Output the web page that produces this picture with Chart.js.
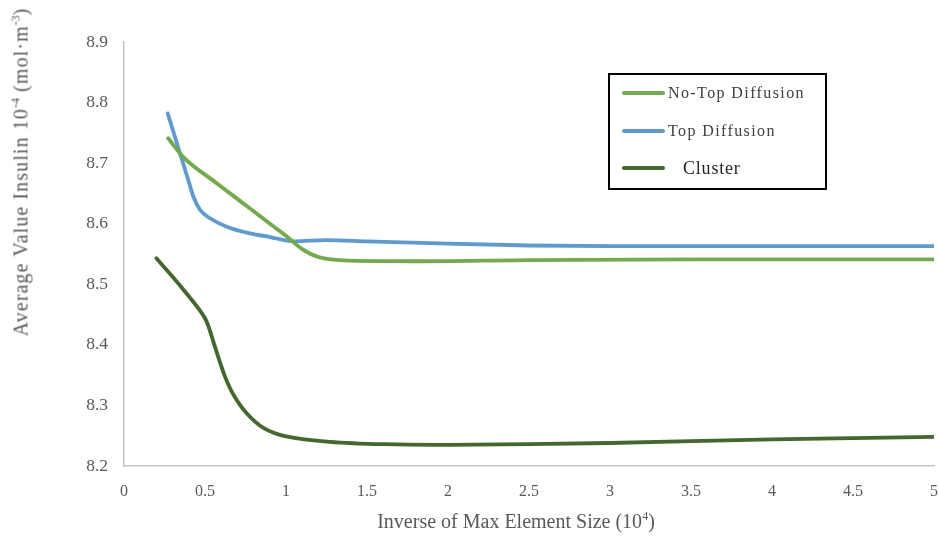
<!DOCTYPE html>
<html>
<head>
<meta charset="utf-8">
<script src="https://cdn.jsdelivr.net/npm/chart.js@4/dist/chart.umd.min.js"></script>
<style>
  html, body { margin: 0; padding: 0; background: #fff; }
  #wrap { position: relative; width: 939px; height: 536px; }
  canvas { position: absolute; left: 0; top: 0; }
  .ytitle { position: absolute; left: 21px; top: 172px; transform: translate(-50%, -50%) rotate(-90deg);
    white-space: nowrap; font-family: "Liberation Serif", serif; font-size: 20px; letter-spacing: 1.1px; color: #595959; }
  .xtitle { position: absolute; left: 516px; top: 521px; transform: translate(-50%, -50%);
    white-space: nowrap; font-family: "Liberation Serif", serif; font-size: 20px; color: #595959; }
  sup { font-size: 12px; vertical-align: 8px; line-height: 0; letter-spacing: 0; }
  .legend { position: absolute; left: 608px; top: 73px; width: 215px; height: 113px;
    border: 2px solid #000; font-family: "Liberation Serif", serif; font-size: 16px; color: #404040; }
  .item { position: absolute; left: 12px; height: 20px; display: flex; align-items: center; }
  .sw { width: 43px; height: 4px; border-radius: 2px; margin-right: 3px; }
</style>
</head>
<body>
<div id="wrap">
  <canvas id="c" width="939" height="536"></canvas>
  <div class="ytitle">Average Value Insulin 10<sup>-4</sup> (mol·m<sup>-3</sup>)</div>
  <div class="xtitle">Inverse of Max Element Size (10<sup>4</sup>)</div>
  <div class="legend" id="legend"></div>
</div>
<script>
const seriesNames = ["No-Top Diffusion", "Top Diffusion", "Cluster"];
const seriesColors = ["#70AD47", "#5B9BD5", "#43682B"];
const seriesCurve = ["monotone", "monotone", "default"];
const seriesTension = [0, 0, 0.3];

const xNoTop = [0.273, 0.366, 0.572, 0.778, 0.901, 1.0, 1.1, 1.2, 1.4, 1.8, 2.5, 3.5, 5.0];
const yNoTop = [8.741, 8.710, 8.667, 8.625, 8.600, 8.580, 8.558, 8.545, 8.539, 8.538, 8.540, 8.541, 8.541];

const xTop = [0.27, 0.346, 0.397, 0.428, 0.469, 0.531, 0.634, 0.778, 0.901, 1.05, 1.25, 1.5, 2.0, 2.5, 3.0, 4.0, 5.0];
const yTop = [8.782, 8.716, 8.672, 8.645, 8.623, 8.609, 8.595, 8.584, 8.578, 8.571, 8.573, 8.571, 8.567, 8.564, 8.563, 8.563, 8.563];

const xCluster = [0.2, 0.367, 0.5, 0.56, 0.62, 0.675, 0.757, 0.86, 1.0, 1.27, 1.6, 2.0, 3.0, 4.0, 5.0];
const yCluster = [8.543, 8.491, 8.444, 8.398, 8.350, 8.318, 8.287, 8.263, 8.249, 8.240, 8.236, 8.235, 8.238, 8.244, 8.248];

const yTicks = [8.2, 8.3, 8.4, 8.5, 8.6, 8.7, 8.8, 8.9];
const xTicks = [0, 0.5, 1, 1.5, 2, 2.5, 3, 3.5, 4, 4.5, 5];

const toPts = (xs, ys) => xs.map((x, i) => ({ x: x, y: ys[i] }));
const allX = [xNoTop, xTop, xCluster];
const allY = [yNoTop, yTop, yCluster];

const datasets = seriesNames.map((name, i) => ({
  label: name,
  data: toPts(allX[i], allY[i]),
  borderColor: seriesColors[i],
  backgroundColor: seriesColors[i],
  borderWidth: 3.8,
  pointRadius: 0,
  cubicInterpolationMode: seriesCurve[i],
  tension: seriesTension[i],
  borderCapStyle: 'round',
  borderJoinStyle: 'round',
  fill: false
}));

new Chart(document.getElementById('c'), {
  type: 'line',
  data: { datasets: datasets },
  options: {
    responsive: false,
    animation: false,
    layout: { padding: { left: 0, right: 5, top: 42, bottom: 0 } },
    plugins: { legend: { display: false }, tooltip: { enabled: false } },
    scales: {
      x: {
        type: 'linear', min: 0, max: 5,
        afterBuildTicks: (a) => { a.ticks = xTicks.map(v => ({ value: v })); },
        afterFit: (a) => { a.height = 70; a.paddingRight = 0; a.paddingLeft = 0; },
        grid: { display: false, drawTicks: false },
        border: { display: true, color: '#c4c4c4', width: 1.5 },
        ticks: { font: { family: "Liberation Serif", size: 16 }, color: '#595959', padding: 16, maxRotation: 0,
                 callback: (v) => String(v) }
      },
      y: {
        type: 'linear', min: 8.2, max: 8.9,
        afterBuildTicks: (a) => { a.ticks = yTicks.map(v => ({ value: v })); },
        afterFit: (a) => { a.width = 124; },
        grid: { display: false, drawTicks: false },
        border: { display: true, color: '#c4c4c4', width: 1.5 },
        ticks: { font: { family: "Liberation Serif", size: 17.5 }, color: '#595959', padding: 16,
                 callback: (v) => Number(v).toFixed(1) }
      }
    }
  }
});

// HTML legend built from the same series arrays
const lg = document.getElementById('legend');
const tops = [8, 46, 83];
seriesNames.forEach((n, i) => {
  const d = document.createElement('div');
  d.className = 'item';
  d.style.top = tops[i] + 'px';
  const sw = document.createElement('div');
  sw.className = 'sw';
  sw.style.background = seriesColors[i];
  const t = document.createElement('span');
  t.textContent = n;
  if (i === 2) { t.style.marginLeft = '15px'; t.style.color = '#1f1f2a'; t.style.fontSize = '18px'; t.style.letterSpacing = '0.8px'; }
  else { t.style.letterSpacing = '1.4px'; }
  d.appendChild(sw); d.appendChild(t);
  lg.appendChild(d);
});
</script>
</body>
</html>
